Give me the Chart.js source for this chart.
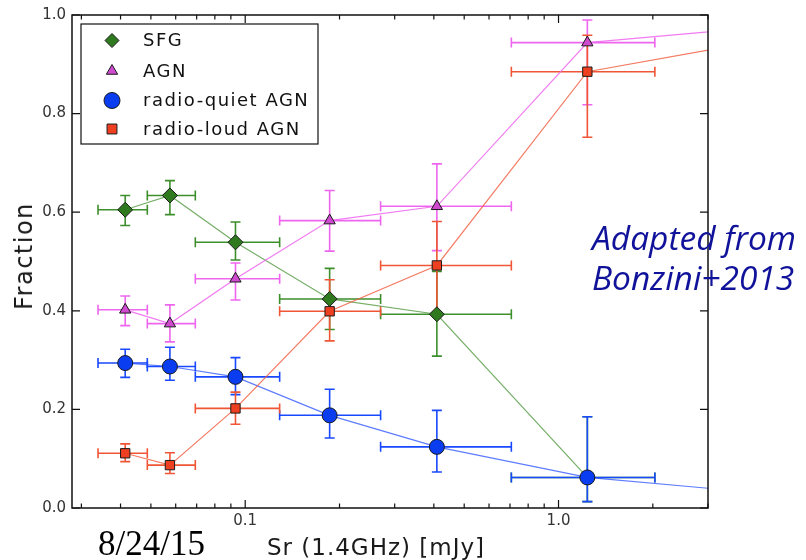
<!DOCTYPE html>
<html>
<head>
<meta charset="utf-8">
<script src="https://cdn.jsdelivr.net/npm/chart.js@4.4.1/dist/chart.umd.min.js"></script>
<style>
  body { margin: 0; background: #fff; }
  #wrap { position: relative; width: 806px; height: 560px; }
  .lbl { position: absolute; white-space: nowrap; line-height: 1; }
  #ylab { font: 24px 'DejaVu Sans'; letter-spacing: 1.5px; color: #1a1a1a;
          left: 24px; top: 256px; transform: translate(-50%, -50%) rotate(-90deg); }
  #xlab { font: 23px 'DejaVu Sans'; letter-spacing: 1px; color: #1a1a1a;
          left: 376px; top: 534px; transform: translateX(-50%); }
  #date { font: 35px 'Liberation Serif'; color: #000; left: 98px; top: 524px; }
  #note { font: italic 33.5px 'Open Sans'; color: #10129a; line-height: 40px;
          left: 592px; top: 217px; }
</style>
</head>
<body>
<div id="wrap">
  <canvas id="fracChart" width="806" height="560"></canvas>
  <div class="lbl" id="ylab">Fraction</div>
  <div class="lbl" id="xlab">Sr (1.4GHz) [mJy]</div>
  <div class="lbl" id="date">8/24/15</div>
  <div class="lbl" id="note">Adapted from<br>Bonzini+2013</div>
</div>
<script>
// flux bins (mJy) and their edges
const fluxMid = [0.0414, 0.0575, 0.0931, 0.186, 0.409, 1.236, 4.5];
const binLo   = [0.0339, 0.0487, 0.0693, 0.1288, 0.2705, 0.707];
const binHi   = [0.0487, 0.0693, 0.1288, 0.2705, 0.707, 2.03];

// fractions per population (last value: point beyond the plotted range)
const sfgVals = [0.605, 0.634, 0.539, 0.424, 0.393, 0.062];
const sfgLo   = [0.573, 0.595, 0.503, 0.362, 0.308, 0.013];
const sfgHi   = [0.634, 0.664, 0.580, 0.486, 0.480, 0.185];

const agnVals = [0.402, 0.374, 0.465, 0.583, 0.612, 0.944, 0.976];
const agnLo   = [0.370, 0.337, 0.422, 0.521, 0.522, 0.818];
const agnHi   = [0.430, 0.412, 0.497, 0.644, 0.698, 0.990];

const rqVals = [0.294, 0.287, 0.266, 0.188, 0.124, 0.062, 0.030];
const rqLo   = [0.265, 0.259, 0.230, 0.142, 0.073, 0.013];
const rqHi   = [0.322, 0.326, 0.305, 0.241, 0.198, 0.185];

const rlVals = [0.111, 0.087, 0.202, 0.399, 0.492, 0.885, 0.949];
const rlLo   = [0.094, 0.070, 0.170, 0.339, 0.397, 0.752];
const rlHi   = [0.130, 0.112, 0.235, 0.463, 0.581, 0.959];

const xTicks = [0.03, 0.04, 0.05, 0.06, 0.07, 0.08, 0.09, 0.1, 0.2, 0.3, 0.4, 0.5, 0.6, 0.7, 0.8, 0.9, 1, 2, 3];
const xTickLabels = { 0.1: '0.1', 1: '1.0' };

const pts = vals => vals.map((v, i) => ({ x: fluxMid[i], y: v }));

function series(label, vals, lo, hi, line, err, fill, style, radius, order) {
    return {
        label, data: pts(vals), yLo: lo, yHi: hi, errColor: err,
        borderColor: line, borderWidth: 1.2,
        pointBackgroundColor: fill, pointBorderColor: '#1a1a1a', pointBorderWidth: 1,
        pointStyle: style, pointRadius: radius, pointHoverRadius: radius,
        showLine: true, order
    };
}

const datasets = [
    series('SFG', sfgVals, sfgLo, sfgHi, 'rgba(60,140,40,0.7)', '#3d8f2b', '#2f7a1f', 'rectRot', 7.5, 4),
    series('AGN', agnVals, agnLo, agnHi, 'rgba(238,100,238,0.85)', '#ee66ee', '#d04ad0', 'triangle', 6.5, 3),
    series('radio-quiet AGN', rqVals, rqLo, rqHi, 'rgba(40,80,255,0.75)', '#1848ff', '#0a3cf0', 'circle', 7.5, 2),
    series('radio-loud AGN', rlVals, rlLo, rlHi, 'rgba(240,90,60,0.8)', '#f05535', '#ee4020', 'rect', 6.6, 1)
];

// error bars drawn from each dataset's yLo / yHi and the bin edges
const errorBars = {
    id: 'errorBars',
    beforeDatasetsDraw(chart) {
        const { ctx, chartArea: a, scales: { x, y } } = chart;
        ctx.save();
        ctx.beginPath();
        ctx.rect(a.left, a.top, a.right - a.left, a.bottom - a.top);
        ctx.clip();
        ctx.lineWidth = 1.6;
        chart.data.datasets.forEach(ds => {
            ctx.strokeStyle = ds.errColor;
            ds.data.forEach((p, i) => {
                if (ds.yLo[i] == null) return;
                const px = x.getPixelForValue(p.x), py = y.getPixelForValue(p.y);
                const x0 = x.getPixelForValue(binLo[i]), x1 = x.getPixelForValue(binHi[i]);
                const y0 = y.getPixelForValue(ds.yLo[i]), y1 = y.getPixelForValue(ds.yHi[i]);
                const c = 5;
                ctx.beginPath();
                ctx.moveTo(x0, py); ctx.lineTo(x1, py);
                ctx.moveTo(x0, py - c); ctx.lineTo(x0, py + c);
                ctx.moveTo(x1, py - c); ctx.lineTo(x1, py + c);
                ctx.moveTo(px, y0); ctx.lineTo(px, y1);
                ctx.moveTo(px - c, y0); ctx.lineTo(px + c, y0);
                ctx.moveTo(px - c, y1); ctx.lineTo(px + c, y1);
                ctx.stroke();
            });
        });
        ctx.restore();
    }
};

// frame, inward ticks and the boxed legend
const frame = {
    id: 'frame',
    afterDraw(chart) {
        const { ctx, chartArea: a, scales: { x, y } } = chart;
        ctx.save();
        ctx.strokeStyle = '#111';
        ctx.lineWidth = 1.5;
        ctx.strokeRect(a.left, a.top, a.right - a.left, a.bottom - a.top);
        ctx.lineWidth = 1.2;
        ctx.beginPath();
        x.ticks.forEach(t => {
            const px = x.getPixelForValue(t.value);
            const len = t.major ? 8 : 4.5;
            ctx.moveTo(px, a.bottom); ctx.lineTo(px, a.bottom - len);
            ctx.moveTo(px, a.top); ctx.lineTo(px, a.top + len);
        });
        y.ticks.forEach(t => {
            const py = y.getPixelForValue(t.value);
            ctx.moveTo(a.left, py); ctx.lineTo(a.left + 8, py);
            ctx.moveTo(a.right, py); ctx.lineTo(a.right - 8, py);
        });
        ctx.stroke();

        // legend
        const lx = 81, ly = 24, lw = 237, lh = 120;
        ctx.fillStyle = '#fff';
        ctx.fillRect(lx, ly, lw, lh);
        ctx.lineWidth = 1.2;
        ctx.strokeStyle = '#111';
        ctx.strokeRect(lx, ly, lw, lh);
        const rows = [40.5, 71, 100.5, 129];
        const legR = [7, 6.5, 8, 7];
        ctx.font = '18px "DejaVu Sans"';
        ctx.letterSpacing = '1.5px';
        ctx.textBaseline = 'middle';
        chart.data.datasets.forEach((ds, i) => {
            ctx.fillStyle = ds.pointBackgroundColor;
            ctx.strokeStyle = '#1a1a1a';
            ctx.lineWidth = 1;
            Chart.helpers.drawPoint(ctx, { pointStyle: ds.pointStyle, radius: legR[i], borderWidth: 1 }, 112, rows[i]);
            ctx.fillStyle = '#111';
            ctx.fillText(ds.label, 143, rows[i] + 1);
        });
        ctx.restore();
    }
};

Chart.defaults.font.family = "'DejaVu Sans'";

new Chart(document.getElementById('fracChart'), {
    type: 'scatter',
    data: { datasets },
    options: {
        responsive: false,
        animation: false,
        layout: { padding: { left: 0, top: 14, right: 98, bottom: 0 } },
        plugins: { legend: { display: false }, tooltip: { enabled: false } },
        scales: {
            x: {
                type: 'logarithmic',
                min: 0.028,
                max: 3.0,
                grid: { display: false, drawTicks: false },
                border: { display: false },
                afterBuildTicks: scale => {
                    scale.ticks = xTicks.map(v => ({ value: v, major: v in xTickLabels }));
                },
                afterFit: scale => { scale.height = 52; },
                ticks: {
                    autoSkip: false,
                    maxRotation: 0,
                    padding: 4,
                    color: '#333',
                    font: { size: 15 },
                    callback: v => xTickLabels[v] || ''
                }
            },
            y: {
                min: 0,
                max: 1,
                grid: { display: false, drawTicks: false },
                border: { display: false },
                afterFit: scale => { scale.width = 72; },
                ticks: {
                    stepSize: 0.2,
                    padding: 6,
                    color: '#333',
                    font: { size: 15 },
                    callback: v => v.toFixed(1)
                }
            }
        }
    },
    plugins: [errorBars, frame]
});
</script>
</body>
</html>
